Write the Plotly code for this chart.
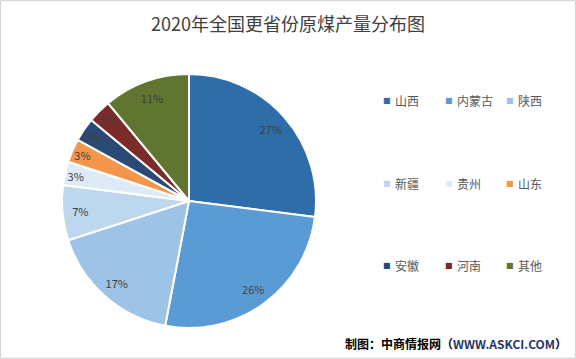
import plotly.graph_objects as go

# Data
provinces = ["山西", "内蒙古", "陕西", "新疆", "贵州", "山东", "安徽", "河南", "其他"]
shares = [27, 26, 17, 7, 3, 3, 3, 3, 11]
colors = ["#2E6DA8", "#5B9BD5", "#9DC3E6", "#BDD7EE", "#DEEBF7",
          "#F4964A", "#2A4A75", "#7A2B2A", "#5F7530"]
title_text = "2020年全国更省份原煤产量分布图"
source_text = "制图：中商情报网（<span style='color:#1F3864'>WWW.ASKCI.COM</span>）"

W, H = 576, 359
FONT = "Noto Sans CJK SC"
pie_domain = dict(x=[(189 - 127) / W, (189 + 127) / W],
                  y=[1 - 328 / H, 1 - 74 / H])

fig = go.Figure()
# filled pie
fig.add_trace(go.Pie(
    labels=provinces,
    values=shares,
    sort=False,
    direction="clockwise",
    rotation=0,
    marker=dict(colors=colors, line=dict(color="white", width=2)),
    textinfo="none",
    showlegend=False,
    domain=pie_domain,
    hoverinfo="label+percent",
))
# transparent ring carrying the percent labels (pushes labels outward like Excel)
fig.add_trace(go.Pie(
    labels=provinces,
    values=shares,
    sort=False,
    direction="clockwise",
    rotation=0,
    hole=0.72,
    marker=dict(colors=["rgba(0,0,0,0)"] * len(shares), line=dict(width=0)),
    texttemplate="%{value}%",
    textposition="inside",
    insidetextorientation="horizontal",
    textfont=dict(family=FONT, size=11, color="#404040"),
    showlegend=False,
    domain=pie_domain,
    hoverinfo="skip",
))

annotations = [
    dict(text=title_text, x=288 / W, y=1 - 23 / H, xref="paper", yref="paper",
         xanchor="center", yanchor="middle", showarrow=False,
         font=dict(family=FONT, size=18, color="#404040")),
    dict(text="<b>" + source_text + "</b>", x=569 / W, y=1 - 343 / H,
         xref="paper", yref="paper", xanchor="right", yanchor="middle",
         showarrow=False, font=dict(family=FONT, size=12, color="#000000")),
]

# Custom legend grid: 3 columns x 3 rows
col_x = [387, 449, 510]
row_y = [100, 183, 265]
for i, (name, c) in enumerate(zip(provinces, colors)):
    cx = col_x[i % 3]
    cy = row_y[i // 3]
    annotations.append(dict(text="■", x=cx / W, y=1 - cy / H, xref="paper",
                            yref="paper", xanchor="center", yanchor="middle",
                            showarrow=False,
                            font=dict(family="DejaVu Sans", size=8, color=c)))
    annotations.append(dict(text=name, x=(cx + 6) / W, y=1 - cy / H,
                            xref="paper", yref="paper", xanchor="left",
                            yanchor="middle", showarrow=False,
                            font=dict(family=FONT, size=12, color="#595959")))

fig.update_layout(
    width=W, height=H,
    margin=dict(l=0, r=0, t=0, b=0),
    paper_bgcolor="white",
    plot_bgcolor="white",
    annotations=annotations,
    uniformtext=dict(minsize=11, mode="show"),
    shapes=[dict(type="rect", xref="paper", yref="paper",
                 x0=0.001, y0=0.002, x1=0.999, y1=0.998,
                 line=dict(color="#D0D0D0", width=1))],
)

fig.write_html("out.html", config={"displayModeBar": False})

# remove default page margin so the figure sits at the window origin
with open("out.html", "r", encoding="utf-8") as f:
    html = f.read()
html = html.replace("<head>", "<head><style>html,body{margin:0;padding:0;overflow:hidden;}</style>", 1)
with open("out.html", "w", encoding="utf-8") as f:
    f.write(html)
